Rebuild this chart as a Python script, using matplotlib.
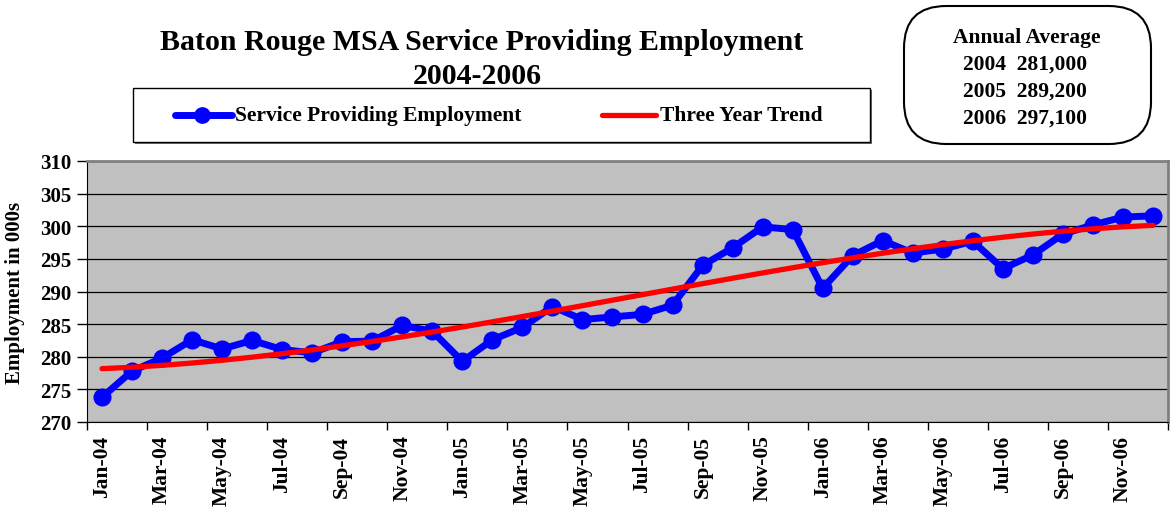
import numpy as np
import matplotlib
matplotlib.use("Agg")
import matplotlib.pyplot as plt
from matplotlib.patches import Rectangle, FancyBboxPatch
from matplotlib.lines import Line2D

# ---------------- data ----------------
months = ["Jan-04", "Feb-04", "Mar-04", "Apr-04", "May-04", "Jun-04",
          "Jul-04", "Aug-04", "Sep-04", "Oct-04", "Nov-04", "Dec-04",
          "Jan-05", "Feb-05", "Mar-05", "Apr-05", "May-05", "Jun-05",
          "Jul-05", "Aug-05", "Sep-05", "Oct-05", "Nov-05", "Dec-05",
          "Jan-06", "Feb-06", "Mar-06", "Apr-06", "May-06", "Jun-06",
          "Jul-06", "Aug-06", "Sep-06", "Oct-06", "Nov-06", "Dec-06"]
employment = [273.8, 277.8, 279.8, 282.6, 281.2, 282.5,
              281.1, 280.6, 282.3, 282.4, 284.8, 283.9,
              279.3, 282.6, 284.5, 287.7, 285.7, 286.1,
              286.5, 287.9, 294.0, 296.7, 299.9, 299.5,
              290.5, 295.5, 297.8, 295.9, 296.5, 297.7,
              293.5, 295.6, 298.8, 300.2, 301.4, 301.6]
annual_years = ["2004", "2005", "2006"]
annual_avgs = ["281,000", "289,200", "297,100"]
y_ticks = [270, 275, 280, 285, 290, 295, 300, 305, 310]

series_label = "Service Providing Employment"
trend_label = "Three Year Trend"
title_line1 = "Baton Rouge MSA Service Providing Employment"
title_line2 = "2004-2006"
ylabel = "Employment in 000s"
box_title = "Annual Average"

# Three year trend: polynomial trendline fitted to the data (as Excel does)
x = np.arange(len(months))
coef = np.polyfit(x, employment, 3)
trend = np.polyval(coef, x)

# ---------------- figure ----------------
W, H = 1172, 510
fig = plt.figure(figsize=(W / 100, H / 100), dpi=100)
plt.rcParams['font.family'] = ['Liberation Serif', 'DejaVu Serif']
plt.rcParams['font.weight'] = 'bold'

def fx(px):
    return px / W

def fy(py):
    return 1 - py / H

ax = fig.add_axes([fx(87), fy(423), fx(1168) - fx(87), fy(162) - fy(423)])
ax.set_facecolor("#C0C0C0")

ax.plot(x, employment, color="#0000FF", lw=5, marker="o", markersize=12,
        zorder=3, solid_joinstyle="round")
ax.plot(x, trend, color="#FF0000", lw=3.8, zorder=4, solid_capstyle="round")

ax.set_xlim(-0.5, len(months) - 0.5)
ax.set_ylim(270, 310)
ax.set_yticks(y_ticks)
ax.set_yticklabels([str(v) for v in y_ticks], fontsize=15, fontweight="bold")
ax.yaxis.grid(True, color="black", lw=0.9)
ax.set_axisbelow(True)

ax.set_xticks(np.arange(-0.5, len(months), 2))
ax.set_xticklabels([])
ax.set_xticks(x[::2], minor=True)
ax.set_xticklabels(months[::2], minor=True, rotation=90, fontsize=15.5,
                   fontweight="bold")
ax.tick_params(axis="x", which="major", length=6, width=1, direction="out")
ax.tick_params(axis="x", which="minor", length=0, pad=9)
ax.tick_params(axis="y", length=7, width=1, direction="out", pad=4)

for s in ["top", "right"]:
    ax.spines[s].set_color("#808080")
    ax.spines[s].set_linewidth(2)
ax.spines["left"].set_color("black")
ax.spines["bottom"].set_color("black")

ax.set_ylabel(ylabel, fontsize=15, fontweight="bold")
ax.yaxis.set_label_coords((25 - 87) / (1168 - 87), 0.5)

# title
fig.text(fx(482), fy(42), title_line1, ha="center", va="center",
         fontsize=21.5, fontweight="bold")
fig.text(fx(477), fy(76), title_line2, ha="center", va="center",
         fontsize=21.5, fontweight="bold")

# legend box (manual)
fig.patches.append(Rectangle((fx(135), fy(145)), fx(870) - fx(133), fy(89) - fy(143),
                             transform=fig.transFigure, facecolor="#707070",
                             edgecolor="none", zorder=1))
fig.patches.append(Rectangle((fx(133), fy(143)), fx(870) - fx(133), fy(89) - fy(143),
                             transform=fig.transFigure, facecolor="white",
                             edgecolor="black", lw=1, zorder=2))
fig.lines.append(Line2D([fx(175), fx(232)], [fy(116), fy(116)], transform=fig.transFigure,
                        color="#0000FF", lw=5, solid_capstyle="round", zorder=3))
fig.lines.append(Line2D([fx(202)], [fy(116)], transform=fig.transFigure,
                        color="#0000FF", marker="o", markersize=11, lw=0, zorder=3))
fig.text(fx(235), fy(116), series_label, ha="left", va="center", fontsize=15.5,
         fontweight="bold", zorder=4)
fig.lines.append(Line2D([fx(602), fx(656)], [fy(116), fy(116)], transform=fig.transFigure,
                        color="#FF0000", lw=3.8, solid_capstyle="round", zorder=3))
fig.text(fx(660), fy(116), trend_label, ha="left", va="center", fontsize=15.5,
         fontweight="bold", zorder=4)

# annual average box
fig.patches.append(FancyBboxPatch((fx(904), fy(145)), fx(1151) - fx(904), fy(7) - fy(145),
                                  boxstyle="round,pad=0,rounding_size=0.036",
                                  transform=fig.transFigure, facecolor="white",
                                  edgecolor="black", lw=1.5, mutation_aspect=W / H))
fig.text(fx(1027), fy(43.5), box_title, ha="center", va="baseline",
         fontsize=15.5, fontweight="bold")
for i, (yr, av) in enumerate(zip(annual_years, annual_avgs)):
    fig.text(fx(1025), fy(70 + 26.7 * i), f"{yr}  {av}", ha="center", va="baseline",
             fontsize=15.5, fontweight="bold")

fig.savefig("out.png", dpi=100)
